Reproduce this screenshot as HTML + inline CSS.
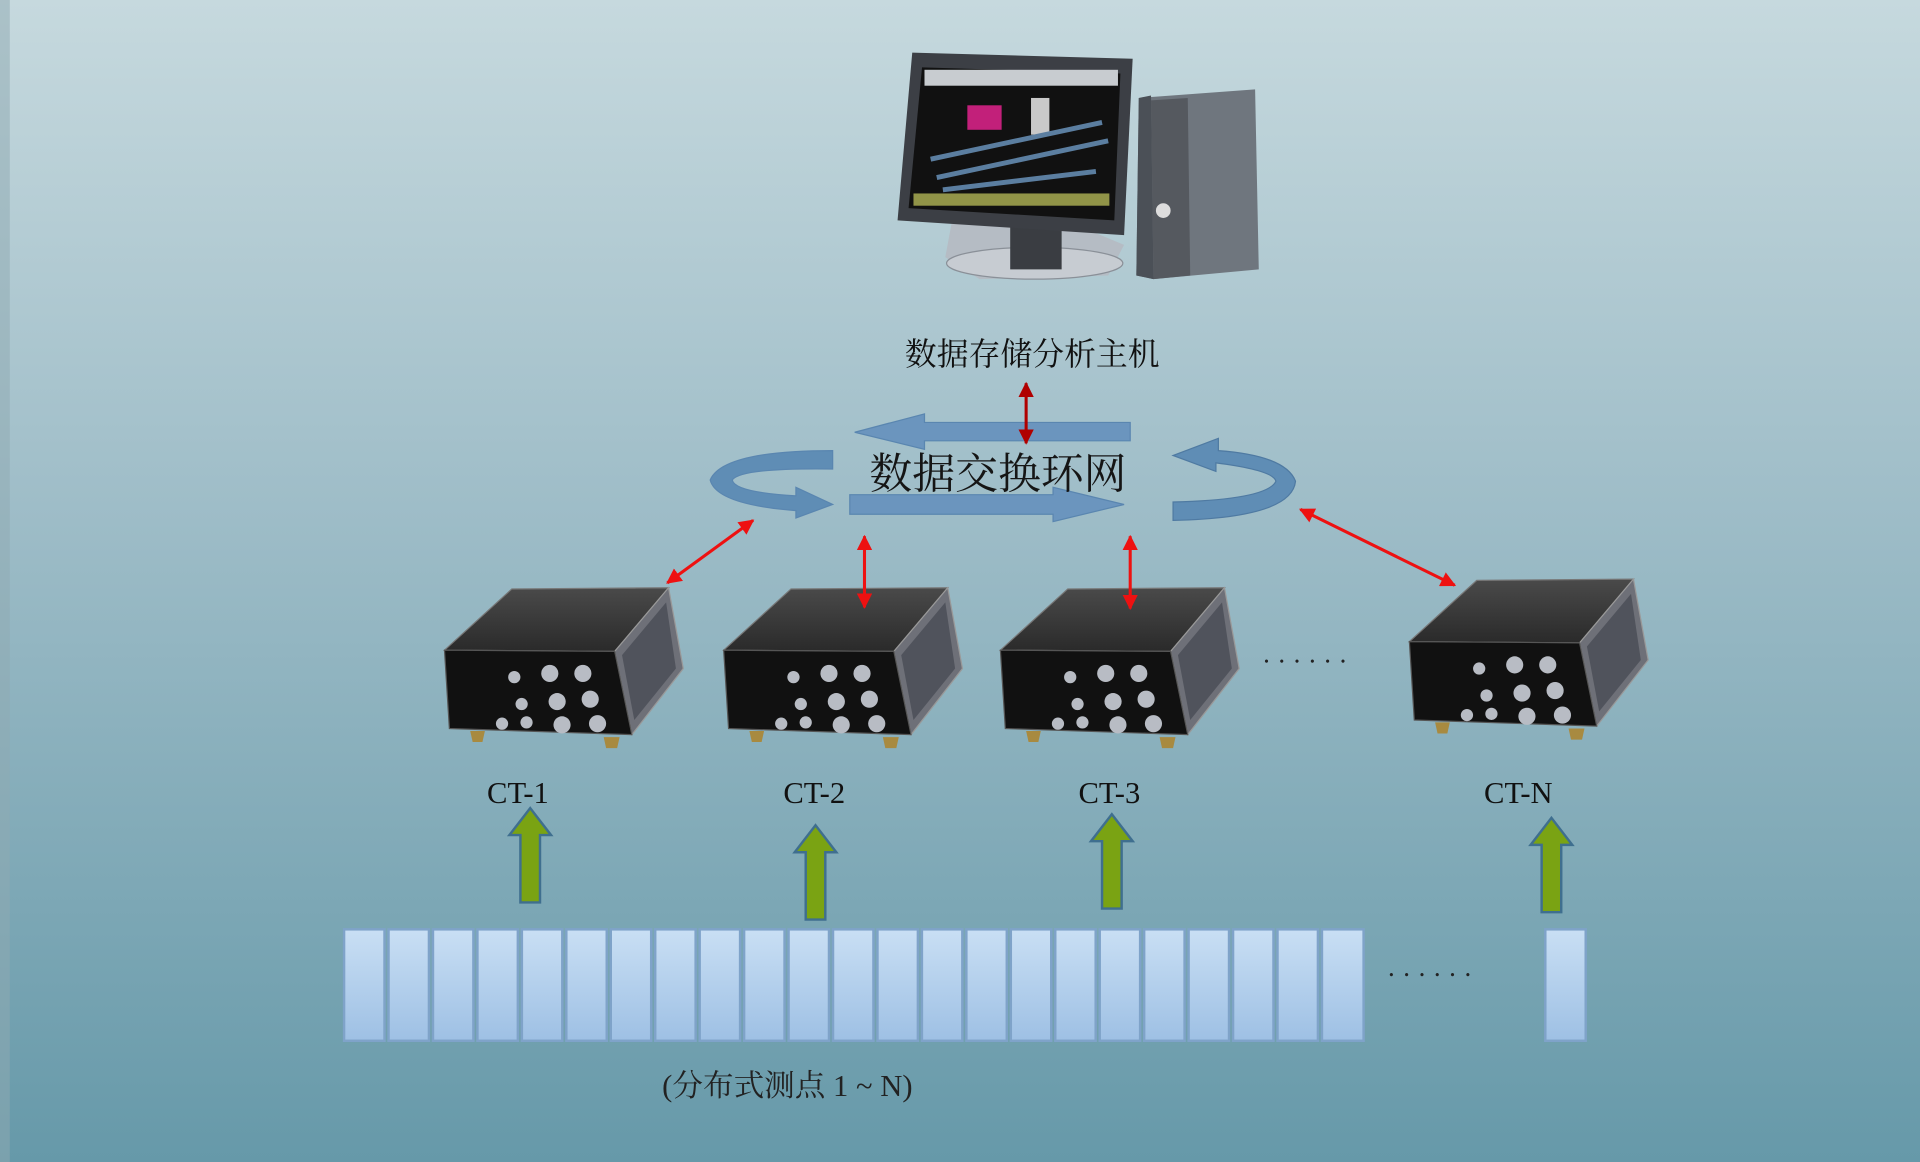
<!DOCTYPE html>
<html><head><meta charset="utf-8"><style>
html,body{margin:0;padding:0;width:1920px;height:1162px;overflow:hidden}
svg{display:block}
text{font-family:"Liberation Serif","Noto Serif CJK SC",serif}
</style></head><body>
<svg width="1920" height="1162" viewBox="0 0 1568 949" preserveAspectRatio="none" xmlns="http://www.w3.org/2000/svg">
<defs>
<linearGradient id="bg" x1="0" y1="0" x2="0" y2="1">
<stop offset="0" stop-color="#c6d9de"/><stop offset="0.45" stop-color="#9dbcc7"/><stop offset="1" stop-color="#6699a9"/>
</linearGradient>
<linearGradient id="cell" x1="0" y1="0" x2="0" y2="1">
<stop offset="0" stop-color="#c9dff4"/><stop offset="1" stop-color="#9ec0e4"/>
</linearGradient>
<linearGradient id="top" x1="0" y1="0" x2="0" y2="1">
<stop offset="0" stop-color="#4a4a4a"/><stop offset="1" stop-color="#2a2a2a"/>
</linearGradient>
<marker id="rh" viewBox="0 0 10 10" refX="9" refY="5" markerWidth="5" markerHeight="5" orient="auto-start-reverse"><path d="M0,0L10,5L0,10z" fill="#ee1111"/></marker>
<marker id="dh" viewBox="0 0 10 10" refX="9" refY="5" markerWidth="5" markerHeight="5" orient="auto-start-reverse"><path d="M0,0L10,5L0,10z" fill="#b00000"/></marker>
<g id="dev">
<polygon points="363,531 418,481 546,480 502,532" fill="url(#top)" stroke="#777" stroke-width="1"/>
<polygon points="502,532 546,480 558,546 516,600" fill="#6e7078" stroke="#999" stroke-width="1"/>
<polygon points="508,535 544,492 552,546 518,588" fill="#50535c"/>
<polygon points="363,531 502,532 516,600 367,595" fill="#111" stroke="#555" stroke-width="1"/>
<g fill="#b8bcc4">
<circle cx="420" cy="553" r="5"/><circle cx="449" cy="550" r="7"/><circle cx="476" cy="550" r="7"/>
<circle cx="426" cy="575" r="5"/><circle cx="455" cy="573" r="7"/><circle cx="482" cy="571" r="7"/>
<circle cx="410" cy="591" r="5"/><circle cx="430" cy="590" r="5"/><circle cx="459" cy="592" r="7"/><circle cx="488" cy="591" r="7"/>
</g>
<polygon points="384,597 396,597 394,606 386,606" fill="#a88a40"/>
<polygon points="493,602 506,602 504,611 495,611" fill="#a88a40"/>
</g>
<g id="garrow">
<polygon points="-8,0 -8,-55 -17,-55 0,-77 17,-55 8,-55 8,0" fill="#7aa313" stroke="#3f6f8f" stroke-width="2"/>
</g>
</defs>
<rect width="1568" height="949" fill="url(#bg)"/>
<rect width="8" height="949" fill="#8fa9b2" opacity="0.5"/>

<!-- computer -->
<polygon points="777,183 870,180 918,200 905,225 800,228 772,210" fill="#b5bcc4"/>
<ellipse cx="845" cy="215" rx="72" ry="13" fill="#c7ccd2" stroke="#8a9098"/>
<rect x="825" y="185" width="42" height="35" fill="#3a3d42"/>
<polygon points="745,43 925,48 918,192 733,180" fill="#3c3f45"/>
<polygon points="753,55 915,60 910,180 742,170" fill="#111"/>
<rect x="755" y="57" width="158" height="13" fill="#c8ccd0"/>
<rect x="790" y="86" width="28" height="20" fill="#c2207a"/>
<rect x="842" y="80" width="15" height="30" fill="#c9c9c9"/>
<path d="M760,130 L900,100 M765,145 L905,115 M770,155 L895,140" stroke="#5b7ea0" stroke-width="4"/>
<rect x="746" y="158" width="160" height="10" fill="#c7cc60" opacity="0.7"/>
<polygon points="930,80 1025,73 1028,220 942,228 928,225" fill="#6f767e"/>
<polygon points="930,80 940,78 942,228 928,225" fill="#4b5057"/>
<polygon points="940,82 970,80 972,225 942,228" fill="#55595f"/>
<circle cx="950" cy="172" r="6" fill="#ddd"/>

<text x="843" y="298" font-size="26" text-anchor="middle" fill="#111" font-family="Noto Sans CJK SC,sans-serif">数据存储分析主机</text>

<!-- ring arrows -->
<polygon points="923,345 923,360 755,360 755,367 698,353 755,338 755,345" fill="#6b95be" stroke="#5a86b0"/>
<polygon points="694,404 860,404 860,398 918,412 860,426 860,420 694,420" fill="#6b95be" stroke="#5a86b0"/>
<path d="M680,368 Q590,368 580,392 Q585,412 650,417 L650,423 L680,412 L650,398 L650,405 Q600,402 598,392 Q605,382 680,383 Z" fill="#5f8db5" stroke="#5a86b0"/>
<path d="M958,425 Q1055,423 1058,393 Q1050,372 995,368 L995,358 L958,372 L993,385 L993,378 Q1040,384 1042,393 Q1035,408 958,410 Z" fill="#5f8db5" stroke="#4f7aa2"/>
<text x="815" y="399" font-size="35" text-anchor="middle" fill="#151515" font-family="Noto Sans CJK SC,sans-serif">数据交换环网</text>

<use href="#dev"/>
<use href="#dev" transform="translate(228,0)"/>
<use href="#dev" transform="translate(454,0)"/>
<use href="#dev" transform="translate(788,-7)"/>

<line x1="838" y1="313" x2="838" y2="362" stroke="#b00000" stroke-width="2.5" marker-start="url(#dh)" marker-end="url(#dh)"/>
<g stroke="#ee1111" stroke-width="2.5">
<line x1="545" y1="476" x2="615" y2="425" marker-start="url(#rh)" marker-end="url(#rh)"/>
<line x1="706" y1="438" x2="706" y2="496" marker-start="url(#rh)" marker-end="url(#rh)"/>
<line x1="923" y1="438" x2="923" y2="497" marker-start="url(#rh)" marker-end="url(#rh)"/>
<line x1="1062" y1="416" x2="1188" y2="478" marker-start="url(#rh)" marker-end="url(#rh)"/>
</g>
<text x="1069" y="541" font-size="22" text-anchor="middle" fill="#222" letter-spacing="7">......</text>

<g font-size="25" text-anchor="middle" fill="#111">
<text x="423" y="656">CT-1</text><text x="665" y="656">CT-2</text>
<text x="906" y="656">CT-3</text><text x="1240" y="656">CT-N</text>
</g>
<use href="#garrow" transform="translate(433,737)"/>
<use href="#garrow" transform="translate(666,751)"/>
<use href="#garrow" transform="translate(908,742)"/>
<use href="#garrow" transform="translate(1267,745)"/>

<g fill="url(#cell)" stroke="#7fa3c9" stroke-width="2">
<rect x="281" y="759" width="33" height="91"/><rect x="317.3" y="759" width="33" height="91"/><rect x="353.6" y="759" width="33" height="91"/><rect x="389.9" y="759" width="33" height="91"/><rect x="426.2" y="759" width="33" height="91"/><rect x="462.5" y="759" width="33" height="91"/><rect x="498.8" y="759" width="33" height="91"/><rect x="535.1" y="759" width="33" height="91"/><rect x="571.4" y="759" width="33" height="91"/><rect x="607.7" y="759" width="33" height="91"/><rect x="644" y="759" width="33" height="91"/><rect x="680.3" y="759" width="33" height="91"/><rect x="716.6" y="759" width="33" height="91"/><rect x="752.9" y="759" width="33" height="91"/><rect x="789.2" y="759" width="33" height="91"/><rect x="825.5" y="759" width="33" height="91"/><rect x="861.8" y="759" width="33" height="91"/><rect x="898.1" y="759" width="33" height="91"/><rect x="934.4" y="759" width="33" height="91"/><rect x="970.7" y="759" width="33" height="91"/><rect x="1007" y="759" width="33" height="91"/><rect x="1043.3" y="759" width="33" height="91"/><rect x="1079.6" y="759" width="34" height="91"/>
<rect x="1262" y="759" width="33" height="91"/>
</g>
<text x="1171" y="797" font-size="22" text-anchor="middle" fill="#222" letter-spacing="7">......</text>
<text x="643" y="895" font-size="25" text-anchor="middle" fill="#222">(分布式测点 1 ~ N)</text>
</svg>
</body></html>
